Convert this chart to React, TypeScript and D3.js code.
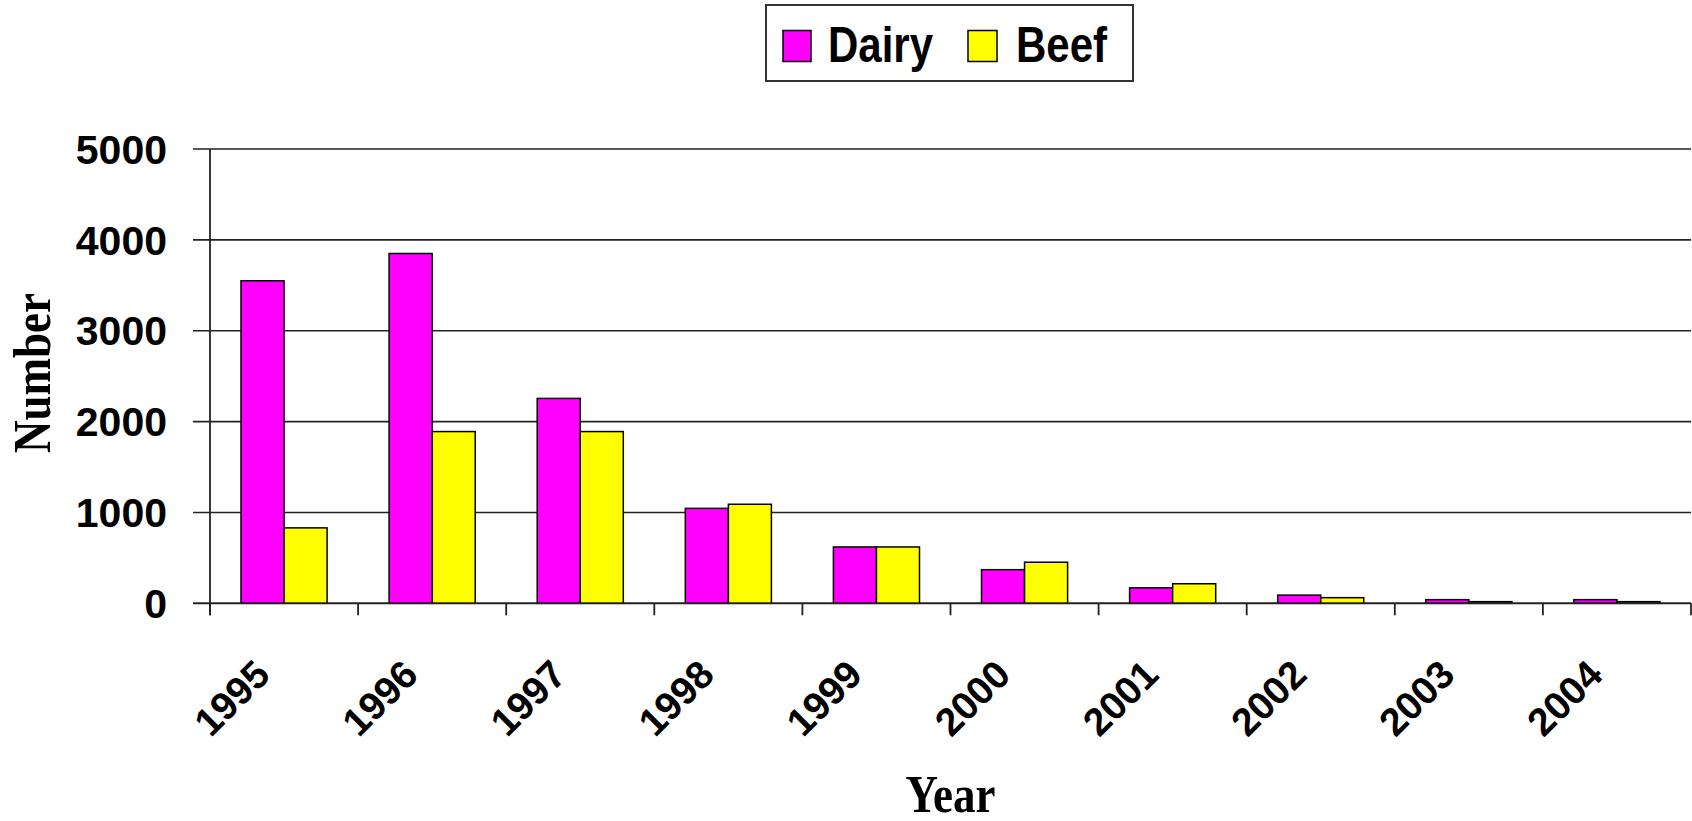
import React from "react";
import * as d3 from "d3";

const years = ["1995", "1996", "1997", "1998", "1999", "2000", "2001", "2002", "2003", "2004"];
const seriesNames = ["Dairy", "Beef"];
const dairy = [3550, 3850, 2255, 1045, 620, 370, 170, 90, 40, 40];
const beef = [830, 1890, 1890, 1090, 620, 452, 215, 62, 18, 18];
const yTicks = [0, 1000, 2000, 3000, 4000, 5000];
const colors = ["#FF00FF", "#FFFF00"];

const W = 1692;
const H = 821;
const left = 210;
const right = 1691;
const top = 149;
const bottom = 603.3;

const SANS = "'Liberation Sans', Arial, Helvetica, sans-serif";
const SERIF = "'Liberation Serif', 'Times New Roman', Times, serif";

export default function App() {
  const x0 = d3.scaleBand<string>().domain(years).range([left, right]).paddingInner(0).paddingOuter(0);
  const bw = x0.bandwidth();
  const gap = 31;
  const x1 = d3.scaleBand<string>().domain(seriesNames).range([gap, bw - gap]).padding(0);
  const y = d3.scaleLinear().domain([0, 5000]).range([bottom, top]);
  const values = [dairy, beef];
  const tickXs = years.map((yr) => x0(yr) as number).concat([right]);

  return (
    <svg
      width={W}
      height={H}
      style={{ position: "absolute", left: 0, top: 0, background: "#fff" }}
    >
      <rect x={0} y={0} width={W} height={H} fill="#fff" />
      {/* gridlines */}
      {yTicks.map((t) => (
        <line
          key={"g" + t}
          x1={left - 17}
          x2={right}
          y1={y(t)}
          y2={y(t)}
          stroke="#222"
          strokeWidth={1.6}
        />
      ))}
      {/* y tick labels */}
      {yTicks.map((t) => (
        <text
          key={"yl" + t}
          x={167}
          y={y(t)}
          dy="0.36em"
          textAnchor="end"
          fontFamily={SANS}
          fontWeight="bold"
          fontSize={41}
          fill="#000"
        >
          {t}
        </text>
      ))}
      {/* bars */}
      {years.map((yr, i) => (
        <g key={"b" + yr} transform={`translate(${x0(yr)},0)`}>
          {seriesNames.map((s, j) => (
            <rect
              key={s}
              x={x1(s)}
              y={y(values[j][i])}
              width={x1.bandwidth()}
              height={bottom - y(values[j][i])}
              fill={colors[j]}
              stroke="#000"
              strokeWidth={1.5}
            />
          ))}
        </g>
      ))}
      {/* baseline and axis */}
      <line x1={left - 17} x2={right} y1={bottom} y2={bottom} stroke="#222" strokeWidth={1.8} />
      <line x1={left} x2={left} y1={top} y2={bottom + 12} stroke="#222" strokeWidth={1.8} />
      {tickXs.map((tx, i) => (
        <line key={"t" + i} x1={tx} x2={tx} y1={bottom} y2={bottom + 12} stroke="#222" strokeWidth={1.8} />
      ))}
      {/* x labels */}
      {years.map((yr) => (
        <text
          key={"xl" + yr}
          transform={`translate(${(x0(yr) as number) + bw / 2 - 12},677) rotate(-45)`}
          textAnchor="end"
          fontFamily={SANS}
          fontWeight="bold"
          fontSize={39}
          fill="#000"
        >
          {yr}
        </text>
      ))}
      {/* axis titles */}
      <text
        transform={`translate(${(left + right) / 2},812) scale(1,1.17)`}
        textAnchor="middle"
        fontFamily={SERIF}
        fontWeight="bold"
        fontSize={45}
        fill="#000"
      >
        Year
      </text>
      <text
        transform={`translate(50,373) rotate(-90) scale(1,1.17)`}
        textAnchor="middle"
        fontFamily={SERIF}
        fontWeight="bold"
        fontSize={45}
        fill="#000"
      >
        Number
      </text>
      {/* legend */}
      <rect x={766} y={5} width={367} height={76} fill="#fff" stroke="#333" strokeWidth={2} />
      <rect x={783} y={30.5} width={28} height={31} fill={colors[0]} stroke="#000" strokeWidth={1.5} />
      <text
        transform="translate(828,61.5) scale(1,1.17)"
        fontFamily={SANS}
        fontWeight="bold"
        fontSize={42}
        fill="#000"
      >
        {seriesNames[0]}
      </text>
      <rect x={968} y={30.5} width={29} height={31} fill={colors[1]} stroke="#000" strokeWidth={1.5} />
      <text
        transform="translate(1016,61.5) scale(1,1.17)"
        fontFamily={SANS}
        fontWeight="bold"
        fontSize={42}
        fill="#000"
      >
        {seriesNames[1]}
      </text>
    </svg>
  );
}
